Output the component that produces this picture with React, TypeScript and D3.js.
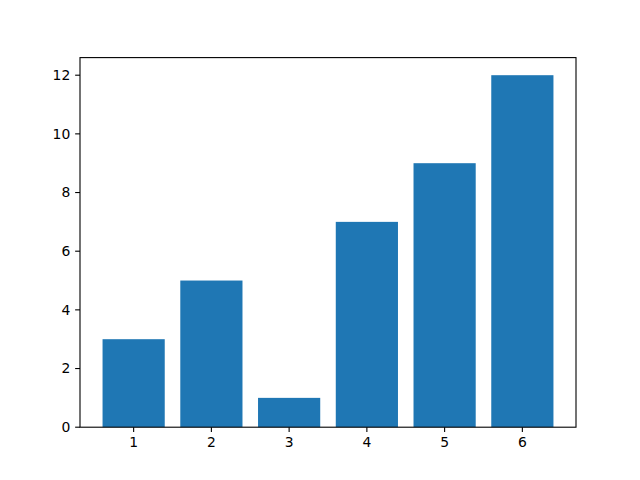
import * as d3 from 'd3';

const categories = [1, 2, 3, 4, 5, 6];
const values = [3, 5, 1, 7, 9, 12];
const xTicks = [1, 2, 3, 4, 5, 6];
const yTicks = [0, 2, 4, 6, 8, 10, 12];

const W = 640;
const H = 480;
const margin = { left: 80, right: 64, top: 57.6, bottom: 52.8 };

export default function App() {
  const innerW = W - margin.left - margin.right;
  const innerH = H - margin.top - margin.bottom;

  // matplotlib autoscale: bar width 0.8, 5% padding
  const x0 = categories[0] - 0.4;
  const x1 = categories[categories.length - 1] + 0.4;
  const pad = (x1 - x0) * 0.05;
  const x = d3.scaleLinear().domain([x0 - pad, x1 + pad]).range([0, innerW]);
  const yMax = d3.max(values)! * 1.05;
  const y = d3.scaleLinear().domain([0, yMax]).range([innerH, 0]);

  const tickLen = 4.86;
  const font = { fontFamily: 'DejaVu Sans', fontSize: 13.9 };

  return (
    <div style={{ position: 'fixed', left: 0, top: 0 }}>
      <svg width={W} height={H} style={{ display: 'block', background: '#fff' }}>
        <g transform={`translate(${margin.left},${margin.top})`}>
          {categories.map((c, i) => (
            <rect
              key={c}
              x={x(c - 0.4)}
              width={x(c + 0.4) - x(c - 0.4)}
              y={y(values[i])}
              height={y(0) - y(values[i])}
              fill="#1f77b4"
            />
          ))}

          {xTicks.map(t => (
            <g key={t} transform={`translate(${x(t)},${innerH})`}>
              <line y2={tickLen} stroke="#000" strokeWidth={1.1} />
              <text y={tickLen + 4.86} dy="0.76em" textAnchor="middle" {...font}>
                {t}
              </text>
            </g>
          ))}

          {yTicks.map(t => (
            <g key={t} transform={`translate(0,${y(t)})`}>
              <line x2={-tickLen} stroke="#000" strokeWidth={1.1} />
              <text x={-tickLen - 4.86} dy="0.35em" textAnchor="end" {...font}>
                {t}
              </text>
            </g>
          ))}

          <rect
            x={0}
            y={0}
            width={innerW}
            height={innerH}
            fill="none"
            stroke="#000"
            strokeWidth={1.1}
          />
        </g>
      </svg>
    </div>
  );
}
